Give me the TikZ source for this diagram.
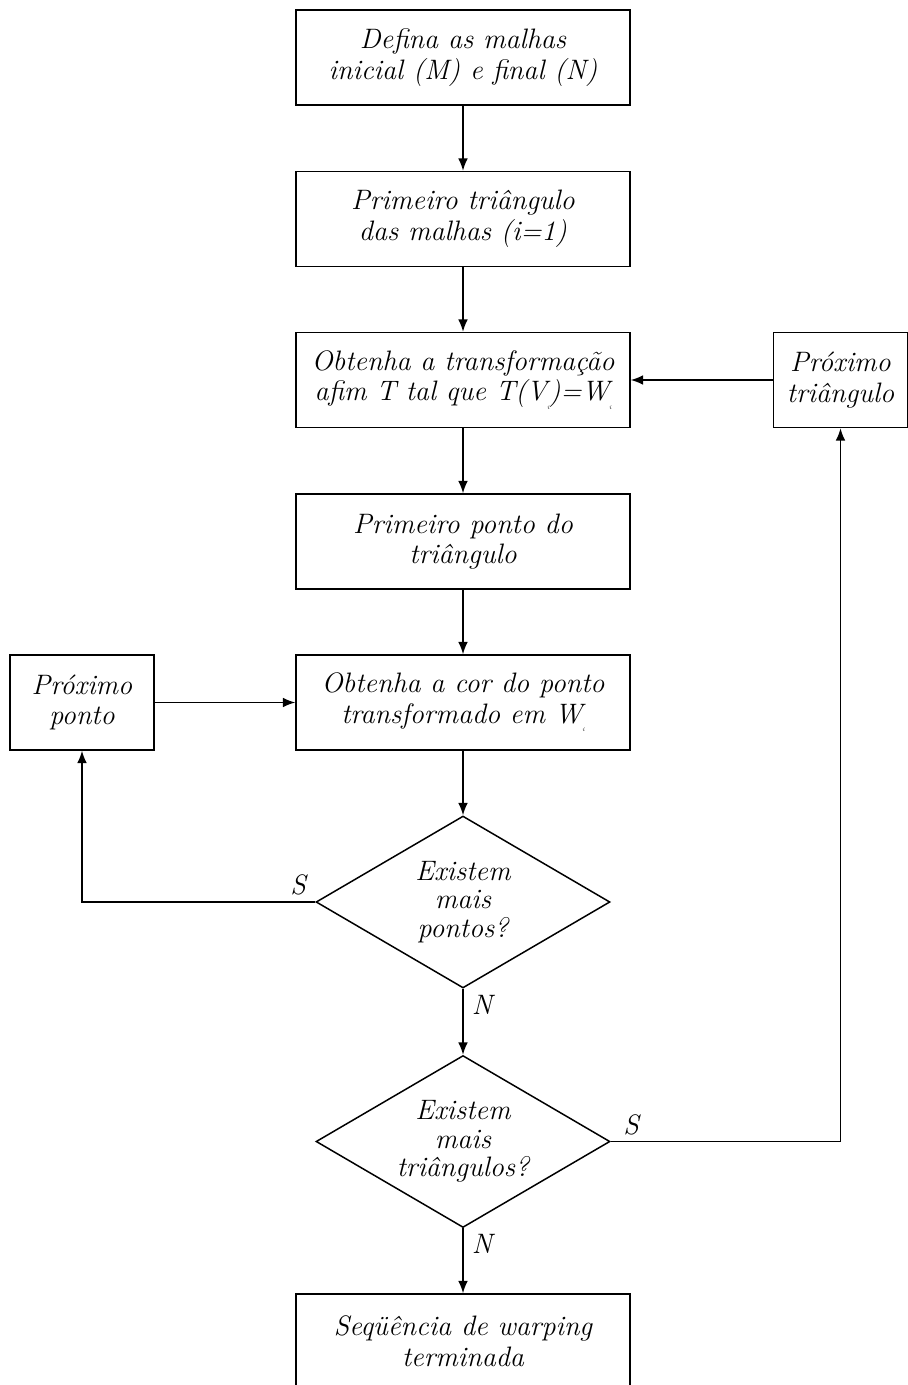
\documentclass[tikz,border=0pt]{standalone}
\usetikzlibrary{shapes.geometric,arrows.meta}
\newcommand{\tinysub}{\raisebox{-0.7ex}{\fontsize{3.5}{3.5}\selectfont\itshape i}}
\begin{document}
\begin{tikzpicture}[x=0.02cm,y=-0.02cm,
  every node/.style={font=\fontsize{16}{17.5}\selectfont\itshape, align=center},
  box/.style={draw, line width=0.85pt, minimum width=6.68cm, minimum height=1.9cm, inner sep=0pt},
  sidebox/.style={draw, line width=0.85pt, minimum height=1.9cm, inner sep=0pt},
  decision/.style={draw, diamond, line width=0.85pt, minimum width=5.88cm, minimum height=3.44cm, inner sep=0pt},
  dtext/.style={font=\fontsize{16}{16.3}\selectfont\itshape, inner sep=0pt},
  arr/.style={line width=0.85pt, -{Latex[length=7pt,width=5.5pt]}},
  lbl/.style={font=\fontsize{16}{19}\selectfont\itshape, inner sep=0pt}]
\useasboundingbox (0,0) rectangle (908,1385);
\node[box] (b1) at (463,57.5) {Defina as malhas\\inicial (M) e final (N)};
\node[box] (b2) at (463,219) {Primeiro triângulo\\das malhas (i=1)};
\node[box] (b3) at (463,380) {Obtenha a transformação\\afim T tal que T(V\tinysub)=W\tinysub};
\node[box] (b4) at (463,541.5) {Primeiro ponto do\\triângulo};
\node[box] (b5) at (463,702.5) {Obtenha a cor do ponto\\transformado em W\tinysub};
\node[sidebox, minimum width=2.88cm] (pp) at (82,702.5) {Próximo\\ponto};
\node[sidebox, minimum width=2.68cm] (pt) at (840.5,380) {Próximo\\triângulo};
\node[decision] (d1) at (463,902) {};
\node[dtext] (t1) at (d1.center) {Existem\\mais\\pontos?};
\node[decision] (d2) at (463,1141.5) {};
\node[dtext] (t2) at (d2.center) {Existem\\mais\\triângulos?};
\node[box] (b6) at (463,1341.5) {Seqüência de warping\\terminada};
\draw[arr] (b1) -- (b2);
\draw[arr] (b2) -- (b3);
\draw[arr] (b3) -- (b4);
\draw[arr] (b4) -- (b5);
\draw[arr] (b5) -- (d1);
\draw[arr] (d1) -- (d2);
\draw[arr] (d2) -- (b6);
\draw[arr] (pp) -- (b5);
\draw[arr] (pt) -- (b3);
\draw[arr] (d1.west) -| (pp.south);
\draw[arr] (d2.east) -| (pt.south);
\node[lbl] (s1) at (298,885) {S};
\node[lbl] (n1) at (482,1005) {N};
\node[lbl] (s2) at (631,1125) {S};
\node[lbl] (n2) at (482,1244) {N};
\end{tikzpicture}
\end{document}
